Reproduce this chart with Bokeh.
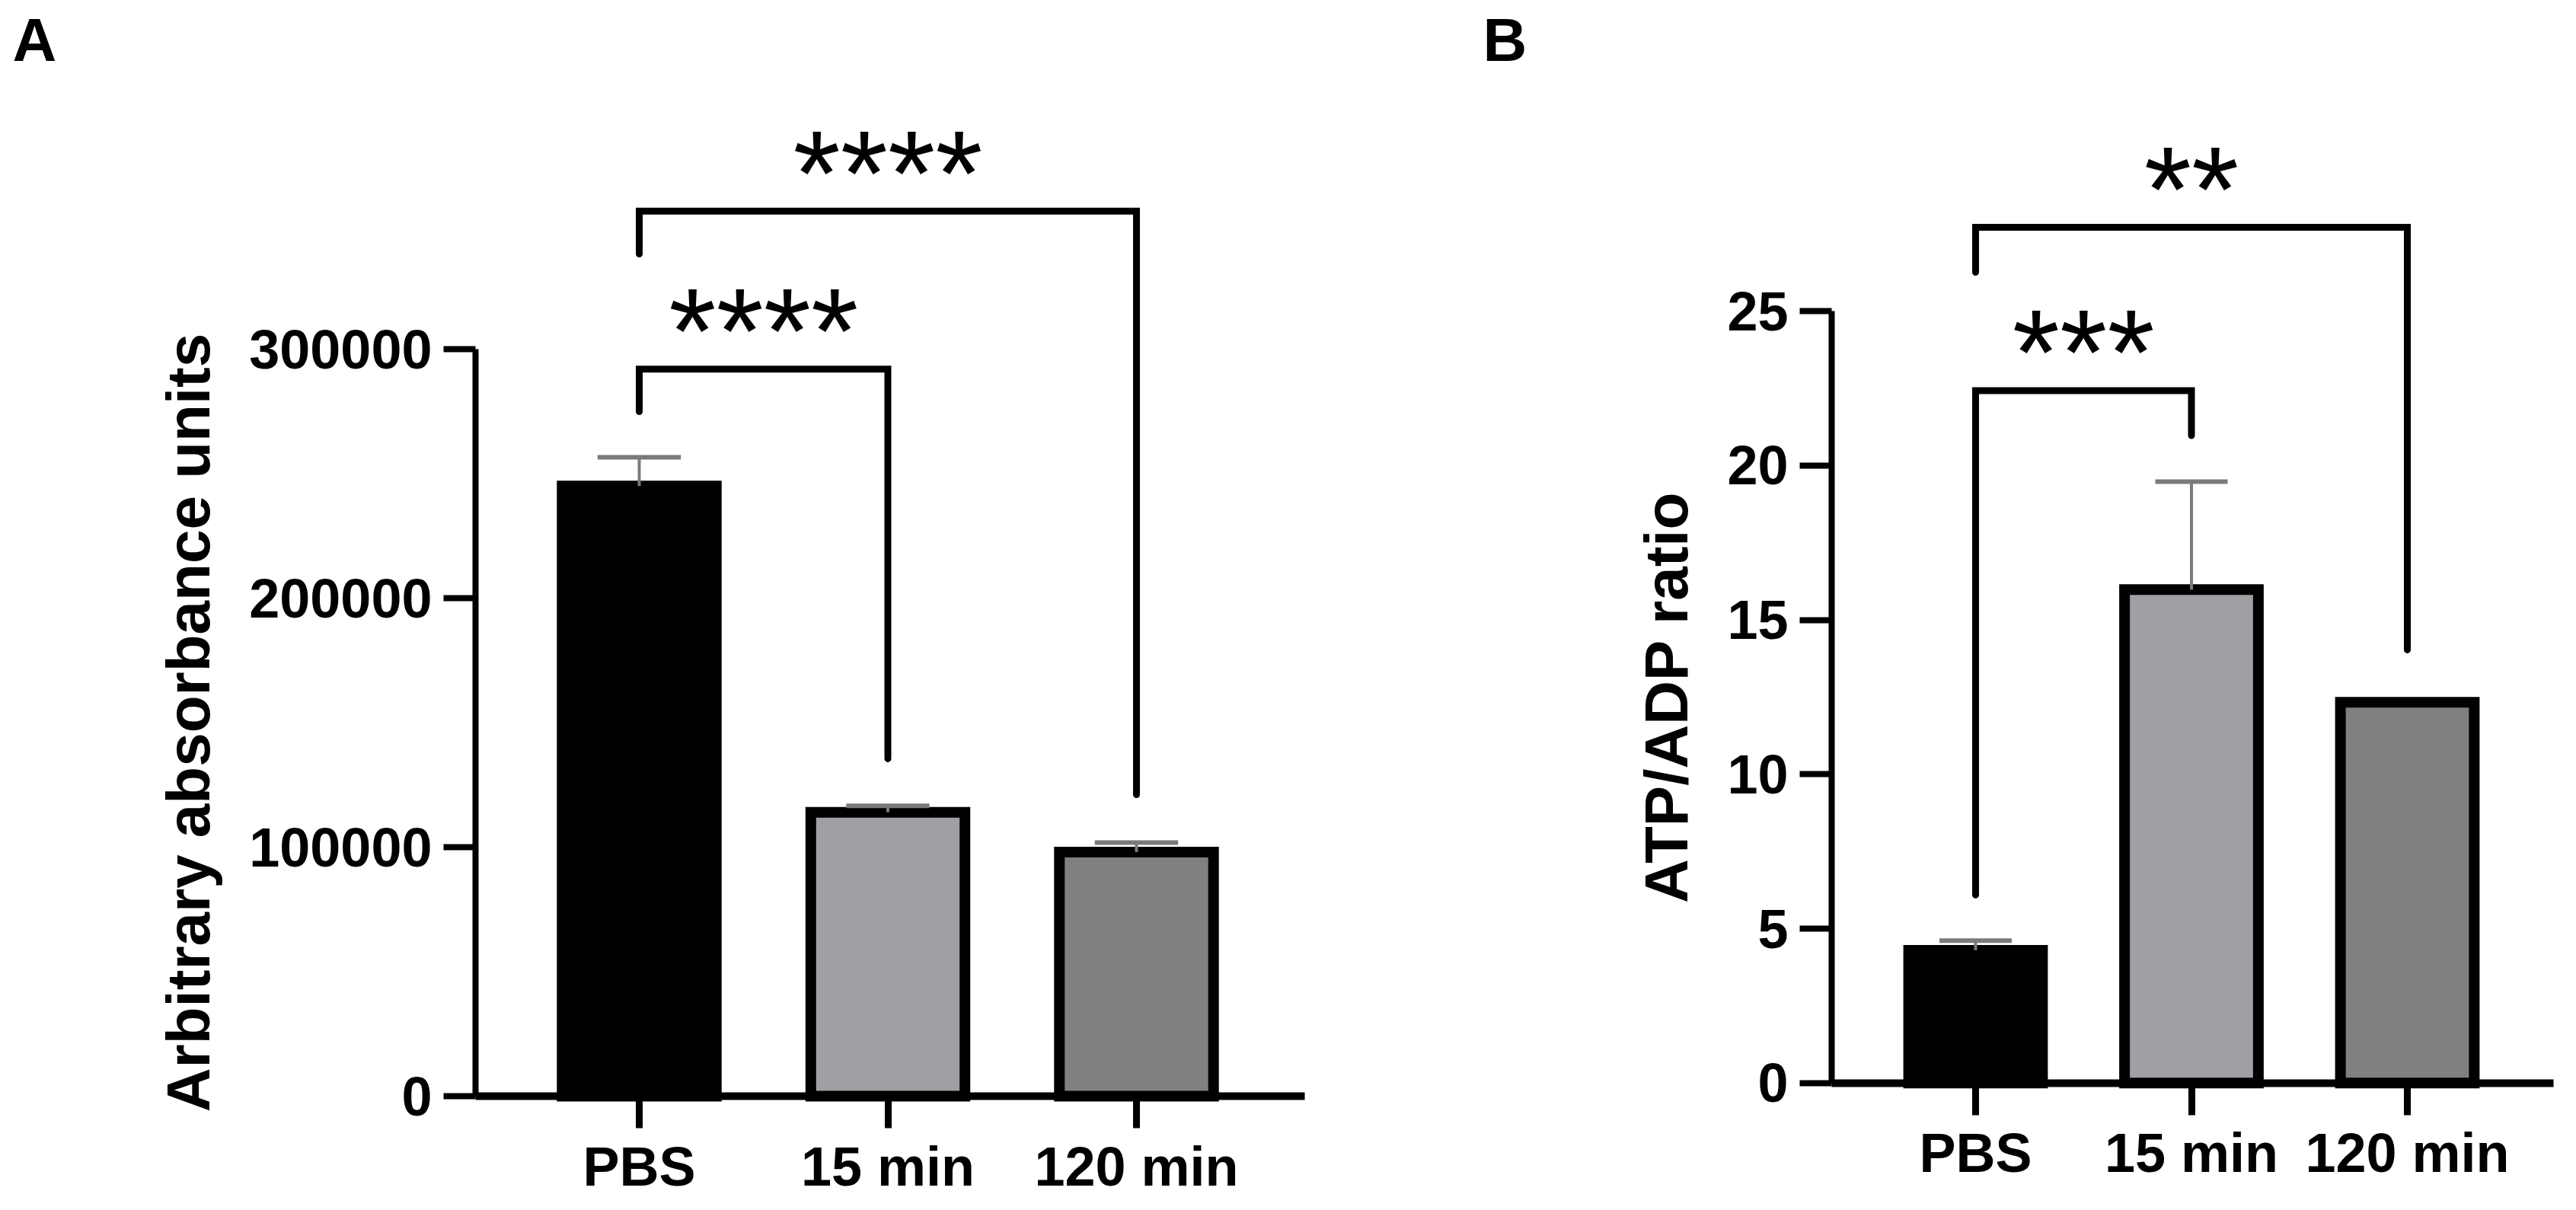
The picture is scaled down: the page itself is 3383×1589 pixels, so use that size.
from bokeh.plotting import figure
from bokeh.layouts import row
from bokeh.models import Range1d, FixedTicker, Label, ColumnDataSource, BasicTickFormatter
from bokeh.core.properties import value
from bokeh.embed import file_html
from bokeh.resources import INLINE

# ---------------- data ----------------
groups = ["PBS", "15 min", "120 min"]
bar_colors = ["#000000", "#A09FA4", "#808080"]

a_means = [245000, 114000, 98000]
a_errors = [11600, 2600, 3800]
a_yticks = [0, 100000, 200000, 300000]
a_pairs = [(0, 1), (0, 2)]
a_bracket_y = [292000, 355400]
a_leg_left = [274900, 338200]
a_leg_right = [135500, 121100]
a_stars = ["****", "****"]

b_means = [4.30, 15.98, 12.33]
b_errors = [0.31, 3.50, 0.0]
b_yticks = [0, 5, 10, 15, 20, 25]
b_pairs = [(0, 1), (0, 2)]
b_bracket_y = [22.43, 27.72]
b_leg_left = [6.09, 26.26]
b_leg_right = [20.97, 14.03]
b_stars = ["***", "**"]

FONT = "Liberation Sans"
HEIGHT = 1584


def panel(letter, ylabel, means, errors, yticks, pairs, br_y, leg_l, leg_r, stars,
          width, x0_px, dx_px, y0_px, dy_px, yaxis_px, xaxis_end_px, letter_px):
    # pixel geometry (canvas coordinates, top-left origin) -> ranges
    xr = (-x0_px / dx_px, (width - x0_px) / dx_px)
    yr = (-(HEIGHT - y0_px) / dy_px, y0_px / dy_px)
    p = figure(width=width, height=HEIGHT, output_backend="svg", toolbar_location=None,
               x_range=Range1d(*xr), y_range=Range1d(*yr), min_border=0,
               min_border_left=0, min_border_right=0, min_border_top=0, min_border_bottom=0)
    p.outline_line_color = None
    p.grid.visible = False
    p.background_fill_color = "white"
    p.border_fill_color = "white"

    xs = list(range(len(groups)))
    src = ColumnDataSource(dict(x=xs, top=means, color=bar_colors))
    p.vbar(x="x", top="top", bottom=0, width=0.62, source=src, fill_color="color",
           line_color="black", line_width=14, line_join="miter")

    ex = [x for x, e in zip(xs, errors) if e > 0]
    ey0 = [m for m, e in zip(means, errors) if e > 0]
    ey1 = [m + e for m, e in zip(means, errors) if e > 0]
    p.segment(x0=ex, y0=ey0, x1=ex, y1=ey1, line_color="#7a7a7a", line_width=4)
    p.segment(x0=[x - 0.1675 for x in ex], y0=ey1, x1=[x + 0.1675 for x in ex], y1=ey1,
              line_color="#7a7a7a", line_width=6)

    bxs = [[i, i, j, j] for (i, j) in pairs]
    bys = [[l, h, h, r] for l, h, r in zip(leg_l, br_y, leg_r)]
    p.multi_line(xs=bxs, ys=bys, line_color="black", line_width=9,
                 line_cap="round", line_join="miter")

    centers = [(i + j) / 2 for (i, j) in pairs]
    p.text(x=centers, y=br_y, text=stars, text_font=value(FONT), text_font_size="160px",
           text_align="center", text_baseline="alphabetic", y_offset=-50, text_color="black")

    ya = p.yaxis[0]
    ya.fixed_location = (yaxis_px - x0_px) / dx_px
    ya.bounds = (yticks[0], yticks[-1])
    ya.ticker = FixedTicker(ticks=yticks)
    ya.formatter = BasicTickFormatter(use_scientific=False)
    ya.axis_line_width = 8
    ya.major_tick_line_width = 8
    ya.major_label_standoff = 15
    ya.axis_label = ylabel
    ya.axis_label_standoff = 32

    xa = p.xaxis[0]
    xa.fixed_location = 0
    xa.bounds = ((yaxis_px - x0_px) / dx_px, (xaxis_end_px - x0_px) / dx_px)
    xa.ticker = FixedTicker(ticks=xs)
    xa.major_label_overrides = {i: g for i, g in zip(xs, groups)}
    xa.axis_line_width = 10
    xa.major_tick_line_width = 9
    xa.major_label_standoff = 10

    for ax in (xa, ya):
        ax.major_tick_out = 42
        ax.major_tick_in = 0
        ax.minor_tick_out = 0
        ax.minor_tick_in = 0
        ax.axis_line_color = "black"
        ax.major_tick_line_color = "black"
        ax.major_label_text_font = FONT
        ax.major_label_text_font_size = "72px"
        ax.major_label_text_font_style = "bold"
        ax.major_label_text_color = "black"
        ax.axis_label_text_font = FONT
        ax.axis_label_text_font_size = "80px"
        ax.axis_label_text_font_style = "bold"
        ax.axis_label_text_color = "black"

    p.add_layout(Label(x=(letter_px[0] - x0_px) / dx_px, y=(y0_px - letter_px[1]) / dy_px,
                       text=letter, text_font=FONT, text_font_size="80px",
                       text_font_style="bold", text_baseline="alphabetic", text_color="black"))
    return p


# canvas A starts at page x=0 ; canvas B starts at page x=1800
pa = panel("A", "Arbitrary absorbance units", a_means, a_errors, a_yticks, a_pairs,
           a_bracket_y, a_leg_left, a_leg_right, a_stars,
           width=1800, x0_px=839, dx_px=326.5, y0_px=1439, dy_px=327.0 / 100000,
           yaxis_px=624, xaxis_end_px=1713, letter_px=(16, 52))

pb = panel("B", "ATP/ADP ratio", b_means, b_errors, b_yticks, b_pairs,
           b_bracket_y, b_leg_left, b_leg_right, b_stars,
           width=1580, x0_px=794, dx_px=283.5, y0_px=1421.7, dy_px=40.54,
           yaxis_px=605, xaxis_end_px=1553, letter_px=(147, 52))

layout = row(pa, pb)
open("out.html", "w").write(file_html(layout, INLINE))
